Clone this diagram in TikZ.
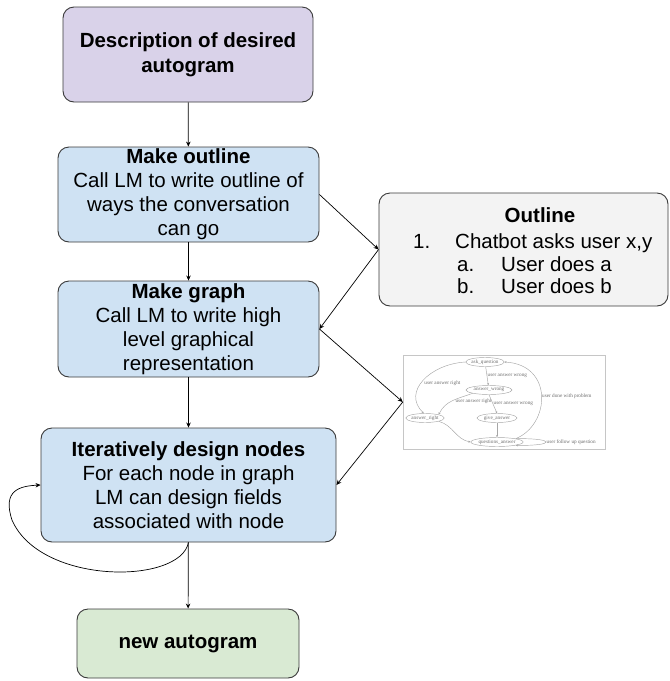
\documentclass[tikz,border=0pt]{standalone}
\usepackage{fontspec}
\setmainfont{Liberation Sans}
\newfontfamily\gvfont{Liberation Serif}
\usetikzlibrary{arrows.meta,shapes.geometric}
\definecolor{descfill}{HTML}{D9D2E9}
\definecolor{stepfill}{HTML}{CFE2F3}
\definecolor{notefill}{HTML}{F3F3F3}
\definecolor{donefill}{HTML}{D9EAD3}
\definecolor{boxline}{HTML}{3A3A3A}

\begin{document}
\begin{tikzpicture}[x=1pt, y=-1pt,
    box/.style={draw=boxline, line width=0.9pt, rounded corners=11pt, align=center, inner sep=0pt, font=\fontsize{20.5}{24}\selectfont},
    flow/.style={-{Stealth[length=5pt,width=4.5pt]}, line width=0.7pt},
    item/.style={anchor=base west, inner sep=0pt, font=\fontsize{20.5}{24}\selectfont},
    gvnode/.style={ellipse, draw=gray!70, line width=0.45pt, inner sep=0pt, minimum height=9pt, font=\gvfont\fontsize{5.2}{6}\selectfont, text=gray!85!black},
    gvedge/.style={-{Stealth[length=2.2pt,width=2pt]}, draw=gray!70, line width=0.45pt},
    gvlabel/.style={font=\gvfont\fontsize{5.2}{6}\selectfont, text=gray!85!black, inner sep=0.5pt}]
    \useasboundingbox (0,0) rectangle (670,681);

    % Main steps
    \node[box, fill=descfill, minimum width=250pt, minimum height=95pt, font=\fontsize{20.5}{25}\selectfont\bfseries] (desc) at (188,54.5) {Description of desired\\autogram};
    \node[box, fill=stepfill, minimum width=261pt, minimum height=95pt] (mkoutline) at (188.5,194.5) {\textbf{Make outline}\\Call LM to write outline of\\ways the conversation\\can go};
    \node[box, fill=stepfill, minimum width=261pt, minimum height=96pt] (mkgraph) at (188.5,329) {\textbf{Make graph}\\Call LM to write high\\level graphical\\representation};
    \node[box, fill=stepfill, minimum width=295pt, minimum height=114pt] (iter) at (188.5,485) {\textbf{Iteratively design nodes}\\For each node in graph\\LM can design fields\\associated with node};
    \node[box, fill=donefill, minimum width=222pt, minimum height=69pt, font=\fontsize{20.5}{24}\selectfont\bfseries] (newag) at (188,643.5) {new autogram};

    % Outline note
    \node[box, fill=notefill, minimum width=289pt, minimum height=113pt] (outl) at (523.5,249.5) {};
    \node[anchor=base, inner sep=0pt, font=\fontsize{20.5}{24}\selectfont\bfseries] (outltitle) at (540,222) {Outline};
    \node[item] (num1) at (413,248) {1.};
    \node[item] (line1) at (455,248) {Chatbot asks user x,y};
    \node[item] (numa) at (457,271) {a.};
    \node[item] (linea) at (501,271) {User does a};
    \node[item] (numb) at (457,293) {b.};
    \node[item] (lineb) at (501,293) {User does b};

    % Graph picture
    \node[draw=gray!45, line width=0.5pt, minimum width=202pt, minimum height=94pt, inner sep=0pt] (shot) at (504,402) {};
    \node[gvnode, minimum width=36pt] (askq) at (485,362) {ask\_question};
    \node[gvnode, minimum width=46pt] (answ) at (489,390) {answer\_wrong};
    \node[gvnode, minimum width=38pt] (ansr) at (425,418) {answer\_right};
    \node[gvnode, minimum width=40pt] (givea) at (497,418) {give\_answer};
    \node[gvnode, minimum width=52pt] (qans) at (497,442) {questions\_answer};
    \draw[gvedge] (askq) -- (answ) node[gvlabel, midway, right] {user answer wrong};
    \draw[gvedge] (askq.west) .. controls (430,364) and (402,392) .. node[gvlabel, pos=0.55, right, xshift=3pt] {user answer right} (ansr.105);
    \draw[gvedge] (answ.south west) to[out=200, in=65] node[gvlabel, pos=0.55, right, xshift=4pt] {user answer right} (ansr.north east);
    \draw[gvedge] (answ.south) -- (givea.north) node[gvlabel, midway, right] {user answer wrong};
    \draw[gvedge] (ansr.south east) to[out=-15, in=170] (qans.west);
    \draw[gvedge] (givea) -- (qans);
    \draw[gvedge] (qans.north east) .. controls (550,425) and (554,365) .. node[gvlabel, pos=0.5, right] {user done with problem} (askq.east);
    \draw[gvedge] (qans.10) .. controls (556,438) and (556,446) .. node[gvlabel, pos=0.5, right] {user follow up question} (qans.-10);

    % Connectors
    \draw[flow] (desc) -- (mkoutline);
    \draw[flow] (mkoutline) -- (mkgraph);
    \draw[flow] (mkgraph) -- (iter);
    \draw[flow] (iter) -- (newag);
    \draw[flow] (mkoutline.east) -- (outl.west);
    \draw[flow] (outl.west) -- (mkgraph.east);
    \draw[flow] (mkgraph.east) -- (shot.west);
    \draw[flow] (shot.west) -- (iter.east);
    \draw[flow] (iter.south) .. controls (180,585) and (40,585) .. (12,520) .. controls (2,490) and (20,486) .. (iter.west);
\end{tikzpicture}
\end{document}
